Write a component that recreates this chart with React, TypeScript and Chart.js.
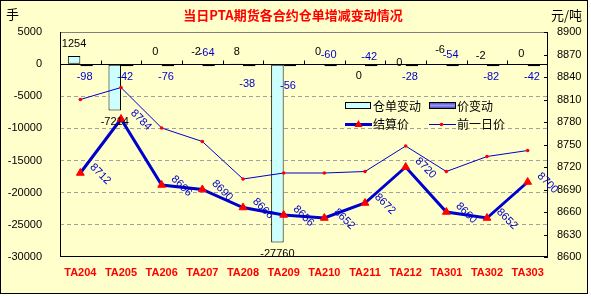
import React, { useEffect, useRef } from "react";
import { Chart, registerables } from "chart.js";

Chart.register(...registerables);

const categories = ["TA204", "TA205", "TA206", "TA207", "TA208", "TA209", "TA210", "TA211", "TA212", "TA301", "TA302", "TA303"];
const stockChange = [1254, -7214, 0, -2, 8, -27760, 0, 0, 0, -6, -2, 0];
const priceChange = [-98, -42, -76, -64, -38, -56, -60, -42, -28, -54, -82, -42];
const settlePrice = [8712, 8784, 8696, 8690, 8666, 8656, 8652, 8672, 8720, 8660, 8652, 8700];
const prevPrice = [8810, 8826, 8772, 8754, 8704, 8712, 8712, 8714, 8748, 8714, 8734, 8742];
const leftTicks = [5000, 0, -5000, -10000, -15000, -20000, -25000, -30000];
const rightTicks = [8900, 8870, 8840, 8810, 8780, 8750, 8720, 8690, 8660, 8630, 8600];

// label nudges (pixels) to mimic the hand-placed labels of the original
const stockLabelDy = [0, 0, 0, 0, 0, 0, 0, 24, 11, -2, 4, 2];
const priceLabelDy = [0, 0, 0, -24, 7, 9, -22, -20, 0, -22, 0, 0];

const TITLE = "当日PTA期货各合约仓单增减变动情况";
const NUM_FONT = "Liberation Sans, Arial, sans-serif";
const CJK_FONT = "'Noto Sans CJK SC', sans-serif";
const BLUE = "#0000CC";

const decorPlugin = {
  id: "decor",
  beforeDraw(chart: any) {
    const ctx = chart.ctx;
    ctx.save();
    ctx.fillStyle = "#ffffff";
    ctx.fillRect(0, 0, chart.width, chart.height);
    ctx.fillStyle = "#FFFFCC";
    ctx.fillRect(0, 0, 588, 294);
    ctx.strokeStyle = "#000000";
    ctx.lineWidth = 1;
    ctx.strokeRect(0.5, 0.5, 587, 293);
    // title
    ctx.fillStyle = "#FF0000";
    ctx.font = `bold 13px ${CJK_FONT}`;
    ctx.textAlign = "center";
    ctx.textBaseline = "middle";
    ctx.fillText(TITLE, 293, 15);
    // axis titles
    ctx.fillStyle = "#000000";
    ctx.font = `13px ${CJK_FONT}`;
    ctx.textAlign = "left";
    ctx.fillText("手", 6, 14);
    ctx.fillText("元/吨", 551, 15);
    ctx.restore();
  },
  beforeDatasetsDraw(chart: any) {
    const ctx = chart.ctx;
    const a = chart.chartArea;
    const y = chart.scales.y;
    const x = chart.scales.x;
    const y1 = chart.scales.y1;
    const y0 = Math.round(y.getPixelForValue(0)) + 0.5;
    ctx.save();
    ctx.lineWidth = 1;
    // top border
    ctx.strokeStyle = "#808080";
    ctx.beginPath();
    ctx.moveTo(a.left, Math.round(a.top) + 0.5);
    ctx.lineTo(a.right, Math.round(a.top) + 0.5);
    ctx.stroke();
    ctx.strokeStyle = "#000000";
    ctx.beginPath();
    // left axis
    ctx.moveTo(Math.round(a.left) + 0.5, a.top);
    ctx.lineTo(Math.round(a.left) + 0.5, a.bottom);
    // bottom
    ctx.moveTo(a.left, Math.round(a.bottom) - 0.5);
    ctx.lineTo(a.right, Math.round(a.bottom) - 0.5);
    // right axis
    ctx.moveTo(Math.round(a.right) - 0.5, a.top);
    ctx.lineTo(Math.round(a.right) - 0.5, a.bottom);
    // zero line (category axis)
    ctx.moveTo(a.left, y0);
    ctx.lineTo(a.right, y0);
    // category tick marks
    const n = categories.length;
    const w = (a.right - a.left) / n;
    for (let i = 1; i < n; i++) {
      const px = Math.round(a.left + w * i) + 0.5;
      ctx.moveTo(px, y0 - 4);
      ctx.lineTo(px, y0);
    }
    // right axis tick marks (inside)
    rightTicks.forEach((v) => {
      const py = Math.round(y1.getPixelForValue(v)) + 0.5;
      ctx.moveTo(a.right - 4, py);
      ctx.lineTo(a.right, py);
    });
    ctx.stroke();
    ctx.restore();
  },
  afterDatasetsDraw(chart: any) {
    const ctx = chart.ctx;
    const y = chart.scales.y;
    const y0 = y.getPixelForValue(0);
    ctx.save();
    ctx.textAlign = "center";
    ctx.textBaseline = "middle";
    ctx.font = `11px ${NUM_FONT}`;
    // stock change labels (black)
    const m0 = chart.getDatasetMeta(0);
    stockChange.forEach((v, i) => {
      const el = m0.data[i];
      const py = y.getPixelForValue(v);
      let cy;
      if (v < -1000) cy = py + 11;
      else cy = Math.min(py, y0) - 12;
      ctx.fillStyle = "#000000";
      ctx.fillText(String(v), el.x, cy + stockLabelDy[i]);
    });
    // price change labels (blue)
    const m1 = chart.getDatasetMeta(1);
    priceChange.forEach((v, i) => {
      const el = m1.data[i];
      ctx.fillStyle = BLUE;
      ctx.fillText(String(v), el.x - 2, y0 + 13 + priceLabelDy[i]);
    });
    // rotated settlement labels
    const m2 = chart.getDatasetMeta(2);
    settlePrice.forEach((v, i) => {
      const el = m2.data[i];
      ctx.save();
      ctx.translate(el.x + 20, el.y + 1);
      ctx.rotate(Math.PI / 4);
      ctx.fillStyle = BLUE;
      ctx.font = `11px ${NUM_FONT}`;
      ctx.fillText(String(v), 0, 0);
      ctx.restore();
    });
    // legend
    ctx.font = `12px ${CJK_FONT}`;
    ctx.textAlign = "left";
    ctx.fillStyle = "#000000";
    ctx.lineWidth = 1;
    // item 1
    ctx.fillStyle = "#CCFFFF";
    ctx.fillRect(345, 102, 25, 6);
    ctx.strokeStyle = "#000000";
    ctx.strokeRect(345.5, 102.5, 25, 6);
    ctx.fillStyle = "#000000";
    ctx.fillText("仓单变动", 373, 106);
    // item 2
    const g = ctx.createLinearGradient(0, 102, 0, 109);
    g.addColorStop(0, "#3333AA");
    g.addColorStop(0.5, "#9999FF");
    g.addColorStop(1, "#3333AA");
    ctx.fillStyle = g;
    ctx.fillRect(429, 102, 26, 6);
    ctx.strokeRect(429.5, 102.5, 26, 6);
    ctx.fillStyle = "#000000";
    ctx.fillText("价变动", 457, 106);
    // item 3
    ctx.strokeStyle = BLUE;
    ctx.lineWidth = 3;
    ctx.beginPath();
    ctx.moveTo(345, 124.5);
    ctx.lineTo(372, 124.5);
    ctx.stroke();
    ctx.fillStyle = "#FF0000";
    ctx.beginPath();
    ctx.moveTo(358.5, 120);
    ctx.lineTo(362.5, 127);
    ctx.lineTo(354.5, 127);
    ctx.closePath();
    ctx.fill();
    ctx.fillStyle = "#000000";
    ctx.fillText("结算价", 373, 124.5);
    // item 4
    ctx.strokeStyle = BLUE;
    ctx.lineWidth = 1;
    ctx.beginPath();
    ctx.moveTo(429, 124.5);
    ctx.lineTo(456, 124.5);
    ctx.stroke();
    ctx.fillStyle = "#FF0000";
    ctx.beginPath();
    ctx.arc(441.5, 124.5, 1.8, 0, Math.PI * 2);
    ctx.fill();
    ctx.fillStyle = "#000000";
    ctx.fillText("前一日价", 457, 124.5);
    ctx.restore();
  },
};

export default function App() {
  const ref = useRef<HTMLCanvasElement>(null);
  useEffect(() => {
    if (!ref.current) return;
    Chart.defaults.font.family = NUM_FONT;
    const chart = new Chart(ref.current, {
      type: "bar",
      data: {
        labels: categories,
        datasets: [
          {
            type: "bar",
            label: "仓单变动",
            data: stockChange,
            backgroundColor: "#CCFFFF",
            borderColor: "#000000",
            borderWidth: 1,
            borderSkipped: false,
            yAxisID: "y",
            categoryPercentage: 0.615,
            barPercentage: 1,
            order: 2,
          },
          {
            type: "bar",
            label: "价变动",
            data: priceChange,
            backgroundColor: "#222266",
            borderColor: "#000000",
            borderWidth: 1,
            borderSkipped: false,
            minBarLength: 2,
            yAxisID: "y",
            categoryPercentage: 0.615,
            barPercentage: 1,
            order: 2,
          },
          {
            type: "line",
            label: "结算价",
            data: settlePrice,
            borderColor: BLUE,
            borderWidth: 3,
            pointStyle: "triangle",
            pointRadius: 4.5,
            pointBackgroundColor: "#FF0000",
            pointBorderColor: "#FF0000",
            pointBorderWidth: 1,
            yAxisID: "y1",
            order: 0,
          },
          {
            type: "line",
            label: "前一日价",
            data: prevPrice,
            borderColor: BLUE,
            borderWidth: 1,
            pointStyle: "circle",
            pointRadius: 1.8,
            pointBackgroundColor: "#FF0000",
            pointBorderColor: "#FF0000",
            pointBorderWidth: 0,
            yAxisID: "y1",
            order: 1,
          },
        ] as any,
      },
      options: {
        responsive: false,
        animation: false,
        devicePixelRatio: 1,
        layout: { padding: { top: 32, left: 0, right: 0, bottom: 0 } },
        plugins: {
          legend: { display: false },
          title: { display: false },
          tooltip: { enabled: false },
        },
        scales: {
          x: {
            grid: { display: false, drawTicks: false },
            border: { display: false },
            ticks: {
              color: "#FF0000",
              font: { family: NUM_FONT, size: 11, weight: "bold" },
              padding: 9,
              maxRotation: 0,
              autoSkip: false,
            },
            afterFit: (s: any) => {
              s.height = 40;
            },
          },
          y: {
            position: "left",
            min: -30000,
            max: 5000,
            afterBuildTicks: (s: any) => {
              s.ticks = leftTicks.map((v) => ({ value: v }));
            },
            afterFit: (s: any) => {
              s.width = 60;
            },
            grid: {
              drawTicks: false,
              color: (c: any) =>
                c.tick && (c.tick.value === 0 || c.tick.value === 5000 || c.tick.value === -30000)
                  ? "rgba(0,0,0,0)"
                  : "#A0A0A0",
            },
            border: { display: false, dash: [4, 3] },
            ticks: {
              color: "#000000",
              font: { family: NUM_FONT, size: 11 },
              padding: 18,
              callback: (v: any) => String(v),
            },
          },
          y1: {
            position: "right",
            min: 8600,
            max: 8900,
            afterBuildTicks: (s: any) => {
              s.ticks = rightTicks.map((v) => ({ value: v }));
            },
            afterFit: (s: any) => {
              s.width = 43;
            },
            grid: { display: false, drawTicks: false },
            border: { display: false },
            ticks: {
              color: "#000000",
              font: { family: NUM_FONT, size: 11 },
              padding: 9,
              callback: (v: any) => String(v),
            },
          },
        },
      } as any,
      plugins: [decorPlugin],
    });
    return () => chart.destroy();
  }, []);
  return (
    <div style={{ position: "fixed", left: 0, top: 0, width: 591, height: 297 }}>
      <canvas ref={ref} width={591} height={297} style={{ display: "block", width: 591, height: 297 }} />
    </div>
  );
}
